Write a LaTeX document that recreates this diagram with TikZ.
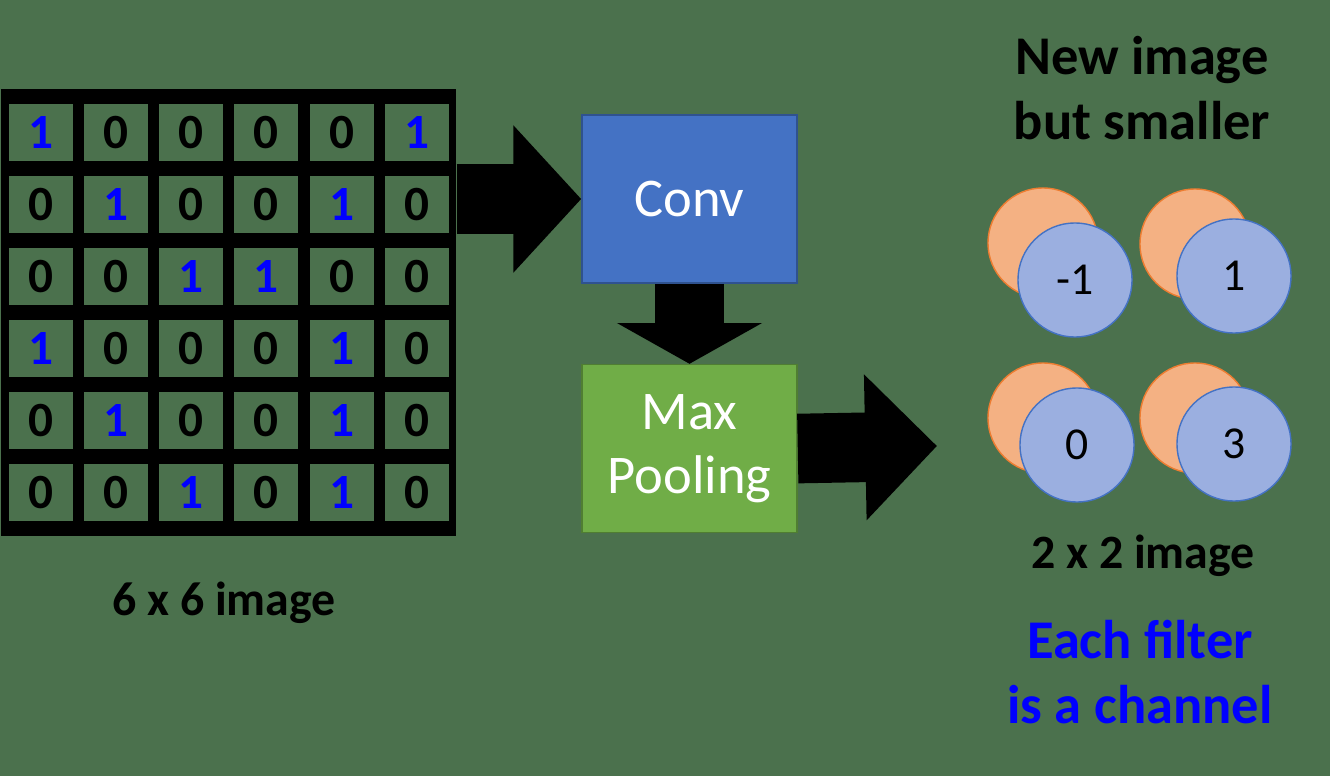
\documentclass[tikz,border=0pt]{standalone}
\usepackage{fontspec}
\setmainfont{Carlito}
\usetikzlibrary{positioning,arrows.meta}

\definecolor{bggreen}{RGB}{75,113,77}
\definecolor{convblue}{RGB}{68,114,196}
\definecolor{convedge}{RGB}{47,82,143}
\definecolor{poolgreen}{RGB}{112,173,71}
\definecolor{pooledge}{RGB}{80,126,50}
\definecolor{chanfill}{RGB}{155,175,224}
\definecolor{chanedge}{RGB}{68,114,196}
\definecolor{peachfill}{RGB}{244,177,131}
\definecolor{peachedge}{RGB}{237,125,49}

\begin{document}
\begin{tikzpicture}[x=0.01cm, y=-0.01cm,
  every node/.style={font=\fontsize{15.5}{18.4}\selectfont},
  cell/.style={fill=bggreen, minimum width=0.64cm, minimum height=0.57cm, inner sep=0, anchor=north west},
  box/.style={draw, rectangle, minimum width=2.15cm, minimum height=1.68cm, text=white, align=center},
  bigarrow/.style={line width=19.8pt, -{Triangle[width=40.8pt, length=19.3pt]}},
  peach/.style={circle, draw=peachedge, fill=peachfill, minimum size=1.1cm, inner sep=0},
  chan/.style={circle, draw=chanedge, fill=chanfill, minimum size=1.14cm, inner sep=0, font=\fontsize{13}{15}\selectfont},
  caption/.style={font=\bfseries\fontsize{15.5}{18.4}\selectfont, align=center},
  sizelabel/.style={font=\bfseries\fontsize{13.6}{16}\selectfont}]
  \fill[bggreen] (0,0) rectangle (1330,776);
  \useasboundingbox (0,0) rectangle (1330,776);

  % 6 x 6 input
  \node[fill=black, minimum width=4.55cm, minimum height=4.47cm, inner sep=0, anchor=north west] (grid) at (0,88) {};
  \foreach \row [count=\j from 0] in {{1,0,0,0,0,1},{0,1,0,0,1,0},{0,0,1,1,0,0},{1,0,0,0,1,0},{0,1,0,0,1,0},{0,0,1,0,1,0}} {
    \foreach \v [count=\i from 0] in \row {
      \ifnum\v=1 \def\dcol{blue}\else\def\dcol{black}\fi
      \node[cell] (c\j\i) at (8+75.2*\i, 103+72*\j) {};
      \node[text=\dcol, font=\bfseries\fontsize{14}{16}\selectfont] at (c\j\i) {\v};
    }
  }
  \node[sizelabel] (inlabel) at (224,603) {6 x 6 image};

  % layers
  \node[box, fill=convblue, draw=convedge] (conv) at (689.5,199) {Conv};
  \node[box, fill=poolgreen, draw=pooledge, below=0.8cm of conv] (pool) {Max\\Pooling};
  \coordinate (out) at (937,446);

  \draw[bigarrow] (conv.west -| grid.east) -- (conv.west);
  \draw[bigarrow, -{Triangle[width=40.8pt, length=11.6pt]}] (conv.south) -- (pool.north);
  \draw[bigarrow, -{Triangle[width=40.3pt, length=20.4pt]}] (pool.east) -- (out);

  % 2 x 2 output, two channels
  \node[caption] (outtitle) at (1142,88) {New image\\but smaller};
  \node[peach] (p1) at (1043,243) {};
  \node[chan] (q1) at (1075,280) {-1};
  \node[peach] (p2) at (1195,244) {};
  \node[chan] (q2) at (1234,276) {1};
  \node[peach] (p3) at (1043,418) {};
  \node[chan] (q3) at (1077,445) {0};
  \node[peach] (p4) at (1195,418) {};
  \node[chan] (q4) at (1234,444) {3};
  \node[sizelabel] (outlabel) at (1143,556) {2 x 2 image};
  \node[caption, text=blue] (note) at (1140,672) {Each filter\\is a channel};
\end{tikzpicture}
\end{document}
